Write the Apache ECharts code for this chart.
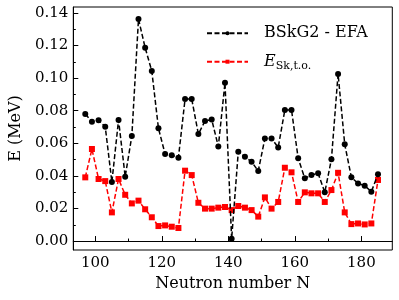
<!DOCTYPE html>
<html>
<head>
<meta charset="utf-8">
<script src="https://cdn.jsdelivr.net/npm/echarts@6/dist/echarts.min.js"></script>
<style>
html,body{margin:0;padding:0;background:#fff;}
#c{width:399px;height:300px;}
</style>
</head>
<body>
<div id="c"></div>
<script>
// Neutron numbers
const neutronN = [97, 99, 101, 103, 105, 107, 109, 111, 113, 115, 117, 119, 121, 123, 125, 127, 129, 131, 133, 135, 137, 139, 141, 143, 145, 147, 149, 151, 153, 155, 157, 159, 161, 163, 165, 167, 169, 171, 173, 175, 177, 179, 181, 183, 185];
// BSkG2 - EFA (MeV)
const bskg2EFA = [0.078, 0.0733, 0.0741, 0.0702, 0.0362, 0.0743, 0.0395, 0.0645, 0.1363, 0.1187, 0.1044, 0.0692, 0.0534, 0.0526, 0.0512, 0.0872, 0.0872, 0.0657, 0.0737, 0.0747, 0.058, 0.0972, 0.0014, 0.0548, 0.0518, 0.0487, 0.043, 0.063, 0.063, 0.0575, 0.0805, 0.0805, 0.0508, 0.0385, 0.0405, 0.0416, 0.0299, 0.0502, 0.1026, 0.0594, 0.0391, 0.0354, 0.034, 0.0303, 0.041];
// E_Sk,t.o. (MeV)
const eSkTO = [0.0391, 0.0565, 0.0381, 0.0368, 0.0176, 0.0381, 0.0284, 0.0231, 0.0248, 0.0195, 0.0146, 0.0092, 0.0096, 0.0088, 0.008, 0.0432, 0.0405, 0.0235, 0.0199, 0.0199, 0.0205, 0.0209, 0.019, 0.0215, 0.0205, 0.019, 0.015, 0.0268, 0.0199, 0.024, 0.045, 0.0422, 0.024, 0.0299, 0.0293, 0.0293, 0.024, 0.0313, 0.0419, 0.0176, 0.0104, 0.0108, 0.0102, 0.0108, 0.0375];
// ticks
const xMajorTicks = [100, 120, 140, 160, 180];
const xMinorTicks = [110, 130, 150, 170];
const yMajorTicks = [0, 0.02, 0.04, 0.06, 0.08, 0.10, 0.12, 0.14];
const yMinorTicks = [0.01, 0.03, 0.05, 0.07, 0.09, 0.11, 0.13];

const FONT = 'DejaVu Serif';
const XMIN = 93.4, XMAX = 189.3, YMIN = -0.0055, YMAX = 0.1437;

const chart = echarts.init(document.getElementById('c'), null, {renderer: 'canvas'});
const pair = (xs, ys) => xs.map((x, i) => [x, ys[i]]);

chart.setOption({
  animation: false,
  backgroundColor: '#fff',
  grid: {left: 66.7, right: 6.7, top: 7, bottom: 50, show: true, borderColor: '#000', borderWidth: 1, containLabel: false},
  legend: {
    orient: 'vertical',
    left: 201, top: 18.3,
    itemWidth: 41, itemHeight: 5, itemGap: 8.4,
    textStyle: {fontFamily: FONT, fontSize: 16, color: '#000', lineHeight: 20,
      rich: {
        n: {fontFamily: FONT, fontSize: 16, color: '#000', lineHeight: 20, padding: [0, 0, 0, 11]},
        i: {fontFamily: FONT, fontStyle: 'italic', fontSize: 16, color: '#000', lineHeight: 20, padding: [0, 0, 0, 11]},
        s: {fontFamily: FONT, fontSize: 11, color: '#000', padding: [9, 0, 0, 0], lineHeight: 20}
      }
    },
    formatter: function (name) {
      if (name === 'ESK') return '{i|E}{s|Sk,t.o.}';
      return '{n|' + name + '}';
    },
    data: ['BSkG2 - EFA', 'ESK']
  },
  xAxis: [{
    type: 'value', min: XMIN, max: XMAX,
    name: 'Neutron number N', nameLocation: 'middle', nameGap: 22,
    nameTextStyle: {fontFamily: FONT, fontSize: 16, color: '#000'},
    axisLine: {show: true, lineStyle: {color: '#000', width: 1}},
    axisTick: {show: true, inside: true, length: 5, customValues: xMajorTicks, lineStyle: {color: '#000'}},
    axisLabel: {show: true, customValues: xMajorTicks, margin: 6, fontFamily: FONT, fontSize: 15, color: '#000'},
    splitLine: {show: false}
  }, {
    type: 'value', min: XMIN, max: XMAX, position: 'bottom', gridIndex: 0,
    axisLine: {show: false},
    axisTick: {show: true, inside: true, length: 2.5, customValues: xMinorTicks, lineStyle: {color: '#000'}},
    axisLabel: {show: false},
    splitLine: {show: false}
  }],
  yAxis: [{
    type: 'value', min: YMIN, max: YMAX,
    name: 'E (MeV)', nameLocation: 'middle', nameGap: 48,
    nameTextStyle: {fontFamily: FONT, fontSize: 16, color: '#000'},
    axisLine: {show: true, lineStyle: {color: '#000', width: 1}},
    axisTick: {show: true, inside: true, length: 5, customValues: yMajorTicks, lineStyle: {color: '#000'}},
    axisLabel: {show: true, customValues: yMajorTicks, margin: 5, fontFamily: FONT, fontSize: 15, color: '#000',
      formatter: v => v.toFixed(2)},
    splitLine: {show: false}
  }, {
    type: 'value', min: YMIN, max: YMAX, position: 'left', gridIndex: 0,
    axisLine: {show: false},
    axisTick: {show: true, inside: true, length: 2.5, customValues: yMinorTicks, lineStyle: {color: '#000'}},
    axisLabel: {show: false},
    splitLine: {show: false}
  }],
  series: [{
    name: 'ESK', type: 'line', xAxisIndex: 0, yAxisIndex: 0,
    data: pair(neutronN, eSkTO),
    symbol: 'rect', symbolSize: 6, showAllSymbol: true,
    itemStyle: {color: '#ff0000'},
    lineStyle: {color: '#ff0000', width: 1.5, type: [5, 2.5]},
    z: 2
  }, {
    name: 'BSkG2 - EFA', type: 'line', xAxisIndex: 0, yAxisIndex: 0,
    data: pair(neutronN, bskg2EFA),
    symbol: 'circle', symbolSize: 6, showAllSymbol: true,
    itemStyle: {color: '#000'},
    lineStyle: {color: '#000', width: 1.5, type: [5, 2.5]},
    z: 3
  }]
});
</script>
</body>
</html>
